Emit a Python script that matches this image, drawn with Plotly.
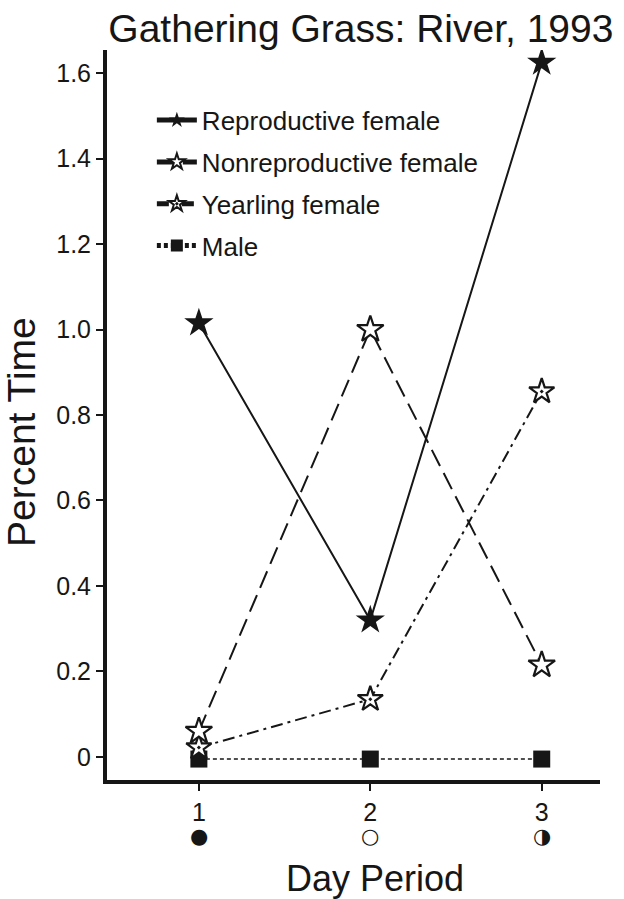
import plotly.graph_objects as go

day_period = [1, 2, 3]
reproductive = [1.015, 0.32, 1.625]
nonreproductive = [0.06, 1.0, 0.215]
yearling = [0.022, 0.135, 0.855]
male = [-0.005, -0.005, -0.005]

y_tickvals = [0, 0.2, 0.4, 0.6, 0.8, 1.0, 1.2, 1.4, 1.6]
y_ticktext = ["0", "0.2", "0.4", "0.6", "0.8", "1.0", "1.2", "1.4", "1.6"]
x_ticktext = ["1", "2", "3"]
moon_phases = ["●", "○", "◑"]

FONT = "Liberation Sans, Arial, sans-serif"
INK = "#161616"

fig = go.Figure()

fig.add_trace(go.Scatter(
    x=day_period, y=male, name="Male", mode="lines+markers", legendrank=4, legendgroup="d",
    line=dict(color=INK, width=1.6, dash="4px,3px"),
    marker=dict(symbol="square", size=17, color=INK, line=dict(color=INK, width=0)),
))
fig.add_trace(go.Scatter(
    x=day_period, y=yearling, name="Yearling female", mode="lines+markers", legendrank=3,
    legendgroup="c",
    line=dict(color=INK, width=2, dash="12px,5px,3px,5px"),
    marker=dict(symbol="star-dot", size=19, color="white", line=dict(color=INK, width=2.2)),
))
fig.add_trace(go.Scatter(
    x=day_period, y=nonreproductive, name="Nonreproductive female", mode="lines+markers",
    legendrank=2, legendgroup="b",
    line=dict(color=INK, width=2, dash="18px,8px"),
    marker=dict(symbol="star", size=20, color="white", line=dict(color=INK, width=2.2)),
))
fig.add_trace(go.Scatter(
    x=day_period, y=reproductive, name="Reproductive female", mode="lines+markers",
    legendrank=1, legendgroup="a",
    line=dict(color=INK, width=2),
    marker=dict(symbol="star", size=22, color=INK, line=dict(color=INK, width=0)),
))

for xv, sym in zip(day_period, moon_phases):
    fig.add_annotation(x=xv, xref="x", y=-0.077, yref="paper", yanchor="middle", text=sym,
                       showarrow=False, font=dict(family="DejaVu Sans", size=21, color=INK))

fig.add_annotation(text="Percent Time", textangle=-90, x=-0.172, xref="paper", xanchor="center",
                   y=0.477, yref="paper", yanchor="middle", showarrow=False,
                   font=dict(size=39, family=FONT, color=INK))
fig.add_annotation(text="Day Period", x=0.544, xref="paper", xanchor="center",
                   y=-0.1356, yref="paper", yanchor="middle", showarrow=False,
                   font=dict(size=36, family=FONT, color=INK))

fig.update_layout(
    width=624, height=899,
    margin=dict(l=107, r=24, t=50, b=119),
    paper_bgcolor="white", plot_bgcolor="white",
    font=dict(family=FONT, color=INK),
    title=dict(text="Gathering Grass: River, 1993", x=0.515, xref="paper", xanchor="center",
               y=0.969, yref="container", yanchor="middle",
               font=dict(size=39, family=FONT, color=INK)),
    showlegend=True,
    legend=dict(x=0.091, y=0.936, xanchor="left", yanchor="top",
                traceorder="grouped", font=dict(size=26, family=FONT, color=INK),
                bgcolor="rgba(0,0,0,0)", itemsizing="constant", tracegroupgap=5,
                itemwidth=40),
)

fig.update_xaxes(
    range=[0.464, 3.34], tickvals=day_period, ticktext=x_ticktext,
    showline=True, linecolor=INK, linewidth=4, mirror=False,
    ticks="outside", ticklen=7, tickwidth=1.5, tickcolor=INK,
    tickfont=dict(size=25, family=FONT, color=INK),
    showgrid=False, zeroline=False,
)
fig.update_yaxes(
    range=[-0.054, 1.654], tickvals=y_tickvals, ticktext=y_ticktext,
    showline=True, linecolor=INK, linewidth=4, mirror=False,
    ticks="outside", ticklen=7, tickwidth=1.5, tickcolor=INK,
    tickfont=dict(size=25, family=FONT, color=INK),
    showgrid=False, zeroline=False,
)

fig.write_html("out.html")
